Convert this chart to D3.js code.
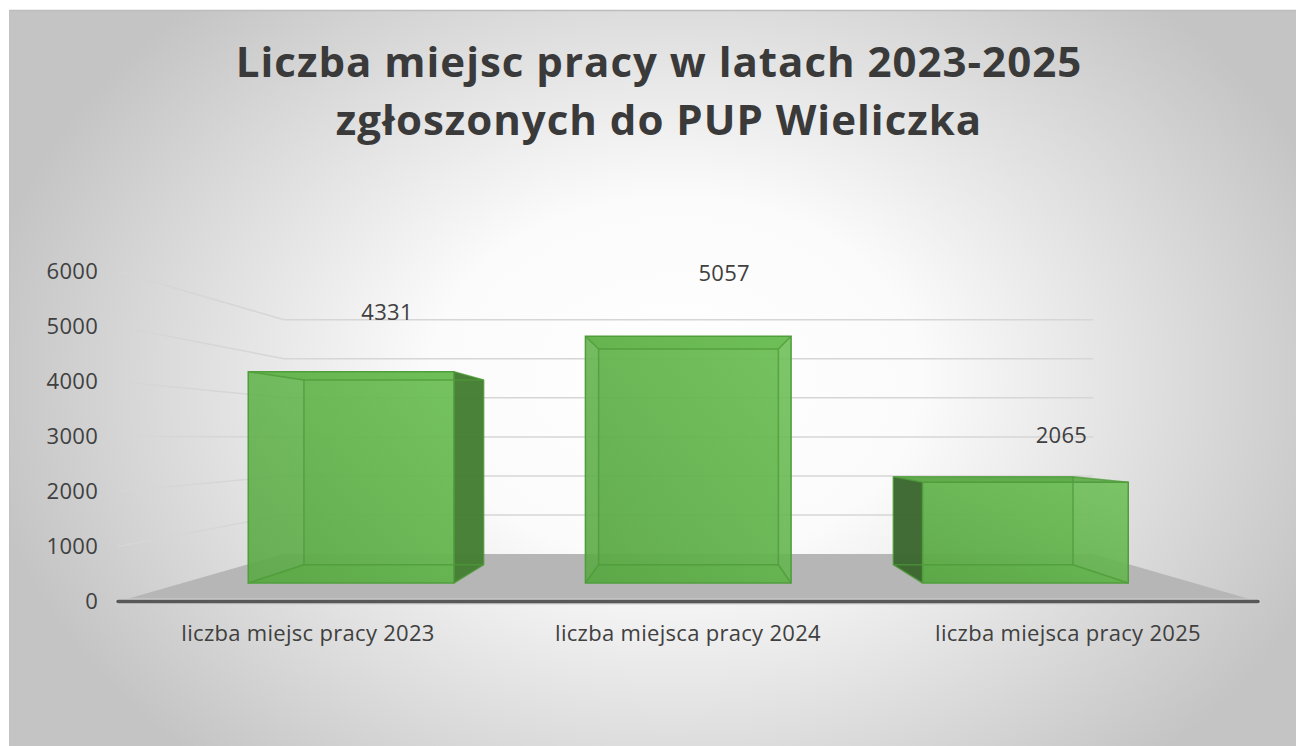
<!DOCTYPE html>
<html>
<head>
<meta charset="utf-8">
<script src="https://cdn.jsdelivr.net/npm/d3@7"></script>
<style>
  body { margin: 0; background: #ffffff; }
  svg { display: block; }
</style>
</head>
<body>
<div id="chart"></div>
<script>
// Data
const categories = ['liczba miejsc pracy 2023', 'liczba miejsca pracy 2024', 'liczba miejsca pracy 2025'];
const values = [4331, 5057, 2065];
const yTicks = [0, 1000, 2000, 3000, 4000, 5000, 6000];
const titleLines = ['Liczba miejsc pracy w latach 2023-2025', 'zgłoszonych do PUP Wieliczka'];

const W = 1296, H = 746;

const svg = d3.select('#chart')
    .append('svg')
    .attr('width', W)
    .attr('height', H);

const defs = svg.append('defs');

// Background gradient (white centre, grey edges)
const bg = defs.append('radialGradient')
    .attr('id', 'bg')
    .attr('gradientUnits', 'userSpaceOnUse')
    .attr('cx', 0).attr('cy', 0).attr('r', 1)
    .attr('gradientTransform', 'translate(675,380) scale(700,520)');
bg.append('stop').attr('offset', 0).attr('stop-color', '#ffffff');
bg.append('stop').attr('offset', 0.35).attr('stop-color', '#fbfbfb');
bg.append('stop').attr('offset', 1).attr('stop-color', '#c4c4c4');

const barGrad = defs.append('linearGradient')
    .attr('id', 'barFront')
    .attr('x1', 0).attr('y1', 1).attr('x2', 1).attr('y2', 0);
barGrad.append('stop').attr('offset', 0).attr('stop-color', '#5aa845');
barGrad.append('stop').attr('offset', 1).attr('stop-color', '#70c159');

svg.append('rect')
    .attr('x', 9).attr('y', 10)
    .attr('width', W - 9).attr('height', H - 10)
    .attr('fill', 'url(#bg)');
svg.append('line')
    .attr('x1', 9).attr('x2', W).attr('y1', 10.5).attr('y2', 10.5)
    .attr('stroke', '#bdbdbd').attr('stroke-width', 1.5);
svg.append('line')
    .attr('x1', 9.5).attr('x2', 9.5).attr('y1', 10).attr('y2', H)
    .attr('stroke', '#c2c2c2').attr('stroke-width', 1);

// Title
svg.append('g')
    .selectAll('text')
    .data(titleLines)
    .enter()
    .append('text')
    .attr('x', 659)
    .attr('y', (d, i) => 77 + i * 58)
    .attr('text-anchor', 'middle')
    .style('font-family', '"Open Sans", sans-serif')
    .style('font-weight', 700)
    .style('font-size', '42px')
    .style('letter-spacing', '1px')
    .attr('fill', '#3a3a3a')
    .text(d => d);

// Perspective set-up: the front plane of the bars is the reference plane
const VP = [690, 438];
const kFront = 1.127, kBarF = 1, kBarB = 0.874, kBack = 0.8;
const proj = (x, y, k) => [VP[0] + k * (x - VP[0]), VP[1] + k * (y - VP[1])];

const x = d3.scaleBand()
    .domain(categories)
    .range([182.5, 1194])
    .paddingInner(0.39)
    .paddingOuter(0.195);

const y = d3.scaleLinear()
    .domain([0, 6000])
    .range([583, 290.2]);

const x0 = x.range()[0], x1 = x.range()[1];
const line = d3.line();

// Gridlines: left side wall + back wall
svg.append('g')
    .selectAll('path')
    .data(yTicks.filter(t => t > 0))
    .enter()
    .append('path')
    .attr('d', t => line([proj(x0, y(t), kFront), proj(x0, y(t), kBack), proj(x1, y(t), kBack)]))
    .attr('fill', 'none')
    .attr('stroke', '#d6d6d6')
    .attr('stroke-width', 1.5);

// Tick labels
svg.append('g')
    .selectAll('text')
    .data(yTicks)
    .enter()
    .append('text')
    .attr('x', t => proj(x0, y(t), kFront)[0] - 20)
    .attr('y', t => proj(x0, y(t), kFront)[1] + 8)
    .attr('text-anchor', 'end')
    .style('font-family', '"Open Sans", sans-serif')
    .style('font-size', '22px')
    .style('letter-spacing', '0.3px')
    .attr('fill', '#404040')
    .text(t => t);

// Floor
svg.append('path')
    .attr('d', line([proj(x0, y(0), kFront), proj(x1, y(0), kFront), proj(x1, y(0), kBack), proj(x0, y(0), kBack)]) + 'Z')
    .attr('fill', '#b6b6b6');
svg.append('path')
    .attr('d', line([proj(x0, y(0), kFront), proj(x1, y(0), kFront)]))
    .attr('stroke', '#d0d0d0')
    .attr('stroke-width', 6)
    .attr('stroke-linecap', 'round');
svg.append('path')
    .attr('d', line([proj(x0, y(0), kFront), proj(x1, y(0), kFront)]))
    .attr('stroke', '#585858')
    .attr('stroke-width', 3.5)
    .attr('stroke-linecap', 'round');

// Bars
const bars = svg.append('g');
categories.forEach((c, i) => {
    const bx0 = x(c), bx1 = x(c) + x.bandwidth();
    const top = y(values[i]), bot = y(0);
    const F = [proj(bx0, top, kBarF), proj(bx1, top, kBarF), proj(bx1, bot, kBarF), proj(bx0, bot, kBarF)];
    const B = [proj(bx0, top, kBarB), proj(bx1, top, kBarB), proj(bx1, bot, kBarB), proj(bx0, bot, kBarB)];
    const poly = pts => line(pts) + 'Z';
    const g = bars.append('g');

    // back face
    g.append('path').attr('d', poly(B))
        .attr('fill', '#5ca646').attr('fill-opacity', 0.5);
    // bottom face
    g.append('path').attr('d', poly([F[3], F[2], B[2], B[3]]))
        .attr('fill', '#55a140').attr('fill-opacity', 0.7);
    // top face
    g.append('path').attr('d', poly([F[0], F[1], B[1], B[0]]))
        .attr('fill', '#5aa845').attr('fill-opacity', 0.9);
    // side faces
    if (bx1 < VP[0]) {
        g.append('path').attr('d', poly([F[1], B[1], B[2], F[2]]))
            .attr('fill', '#467d35').attr('fill-opacity', 0.95);
    }
    if (bx0 > VP[0]) {
        g.append('path').attr('d', poly([F[0], B[0], B[3], F[3]]))
            .attr('fill', '#3b662f').attr('fill-opacity', 0.95);
    }
    // front face
    g.append('path').attr('d', poly(F))
        .attr('fill', 'url(#barFront)').attr('fill-opacity', 0.9);

    // inner (back) edges seen through
    const edges = [[B[0], B[1]], [B[1], B[2]], [B[2], B[3]], [B[3], B[0]],
                   [F[0], B[0]], [F[1], B[1]], [F[2], B[2]], [F[3], B[3]]];
    edges.forEach(e => {
        g.append('path').attr('d', line(e))
            .attr('stroke', '#4c9a37').attr('stroke-opacity', 0.75)
            .attr('stroke-width', 1.5);
    });
    g.append('path').attr('d', poly(F))
        .attr('fill', 'none')
        .attr('stroke', '#4f9e3b').attr('stroke-width', 1.5);
});

// Data labels
svg.append('g')
    .selectAll('text')
    .data(values)
    .enter()
    .append('text')
    .attr('x', (d, i) => x(categories[i]) + x.bandwidth() / 2 + 36)
    .attr('y', d => VP[1] + 1.11 * (y(d) - VP[1]) - 52 + 8)
    .attr('text-anchor', 'middle')
    .style('font-family', '"Open Sans", sans-serif')
    .style('font-size', '22px')
    .style('letter-spacing', '0.3px')
    .attr('fill', '#404040')
    .text(d => d);

// Category labels
svg.append('g')
    .selectAll('text')
    .data(categories)
    .enter()
    .append('text')
    .attr('x', c => proj(x(c) + x.bandwidth() / 2, y(0), kFront)[0])
    .attr('y', c => proj(x(c) + x.bandwidth() / 2, y(0), kFront)[1] + 40)
    .attr('text-anchor', 'middle')
    .style('font-family', '"Open Sans", sans-serif')
    .style('font-size', '22px')
    .style('letter-spacing', '0.3px')
    .attr('fill', '#404040')
    .text(c => c);
</script>
</body>
</html>
